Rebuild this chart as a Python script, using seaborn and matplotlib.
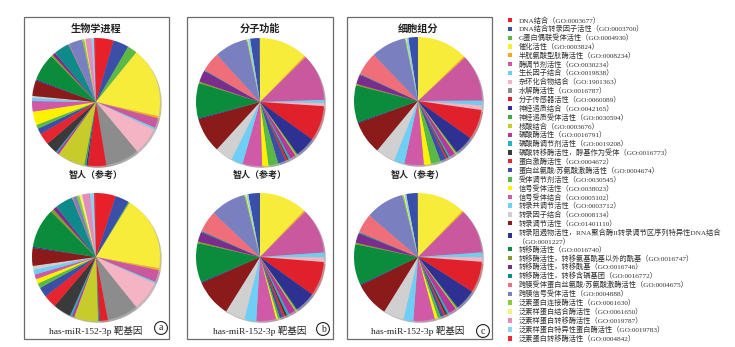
import matplotlib
matplotlib.use("Agg")
import matplotlib.pyplot as plt
import seaborn as sns
from matplotlib.patches import Rectangle, Patch

sns.set_theme(style="white")
plt.rcParams['font.family'] = ['Liberation Serif', 'Noto Sans CJK SC', 'DejaVu Sans']

# ---------------- data ----------------
categories = [
    "DNA结合（GO:0003677）",
    "DNA结合转录因子活性（GO:0003700）",
    "G蛋白偶联受体活性（GO:0004930）",
    "催化活性（GO:0003824）",
    "半胱氨酸型肽酶活性（GO:0008234）",
    "酶调节剂活性（GO:0030234）",
    "生长因子结合（GO:0019838）",
    "杂环化合物结合（GO:1901363）",
    "水解酶活性（GO:0016787）",
    "分子传感器活性（GO:0060089）",
    "神经递质结合（GO:0042165）",
    "神经递质受体活性（GO:0030594）",
    "核酸结合（GO:0003676）",
    "磷酸酶活性（GO:0016791）",
    "磷酸酶调节剂活性（GO:0019208）",
    "磷酸转移酶活性，醇基作为受体（GO:0016773）",
    "蛋白激酶活性（GO:0004672）",
    "蛋白丝氨酸/苏氨酸激酶活性（GO:0004674）",
    "受体调节剂活性（GO:0030545）",
    "信号受体活性（GO:0038023）",
    "信号受体结合（GO:0005102）",
    "转录共调节活性（GO:0003712）",
    "转录因子结合（GO:0008134）",
    "转录调节活性（GO:01401110）",
    "转录阻遏物活性，RNA聚合酶II转录调节区序列特异性DNA结合\n（GO:0001227）",
    "转移酶活性（GO:0016740）",
    "转移酶活性，转移氨基酰基以外的酰基（GO:0016747）",
    "转移酶活性，转移酰基（GO:0016746）",
    "转移酶活性，转移含磷基团（GO:0016772）",
    "跨膜受体蛋白丝氨酸/苏氨酸激酶活性（GO:0004675）",
    "跨膜信号受体活性（GO:0004888）",
    "泛素蛋白连接酶活性（GO:0061630）",
    "泛素样蛋白结合酶活性（GO:0061650）",
    "泛素样蛋白转移酶活性（GO:0019787）",
    "泛素样蛋白特异性蛋白酶活性（GO:0019783）",
    "泛素蛋白转移酶活性（GO:0004842）",
]

colors = [
    "#e8202a", "#3a4fa8", "#5cb946", "#f8ec3a", "#f5a623", "#c9589e",
    "#6ccff0", "#f4b4c4", "#8c8c8c", "#e0202a", "#2e3192", "#3aaa48",
    "#c8cc2a", "#b8379a", "#1fb5c9", "#3a3a3a", "#e62530", "#3b4fa6",
    "#58b947", "#fff200", "#d15aa8", "#6dcff6", "#d0d0d0", "#8b1a1a",
    "#2e3192", "#0a8c3c", "#8a9a2a", "#7b2d8e", "#0e8a8a", "#f06e7a",
    "#7a7fc0", "#8dc63f", "#f5f07a", "#e38cc0", "#8ad4f0", "#ee2a3a",
]

# (a) biological process
bp_ref = [4.5, 4.0, 2.5, 18, 0.5, 2.5, 0.5, 7, 8.6, 4.7, 0.4, 0.5, 7, 0.6, 0.3, 3,
          3, 1.5, 1, 3.5, 2.7, 0.8, 0.5, 4, 0.3, 7, 0.5, 0.8, 4, 0.2, 3.5, 0.5,
          0.3, 1.5, 0.7, 0.5]
bp_target = [5, 3.5, 0.3, 19, 0.5, 3, 0.4, 7.5, 7.8, 2, 0.2, 0.3, 6, 0.6, 0.5, 4.5,
             3.3, 2.5, 1.2, 1.2, 1.2, 1.2, 1, 4.5, 0.3, 10, 0.8, 1, 4.5, 0.2, 1, 0.7,
             0.7, 2, 1, 0.5]
# (b) molecular function
mf_ref = [0, 2.5, 0, 12.5, 0.4, 12, 0.8, 0.8, 0, 9, 5.3, 0.3, 0.3, 1.5, 0.5, 0.3,
          0.5, 2, 2.5, 1.6, 5, 3, 4.5, 9, 0.3, 9, 0.4, 3, 0.2, 5, 8.5, 0.2,
          0.2, 0, 0.5, 0]
mf_target = [0, 3, 0, 12.2, 0.4, 11.5, 1.2, 1.2, 0, 8.7, 5.4, 0.3, 0.3, 1.7, 0.6, 0.5,
             0.6, 0.8, 0.5, 0.5, 5, 3, 5, 9.5, 0.3, 10, 0.4, 2.5, 0.3, 5.5, 9, 0.3,
             0.3, 0, 0.4, 0]
# (c) cellular component
cc_ref = [0, 2.5, 0, 13, 0.4, 12, 1.2, 1.2, 0, 7.7, 5, 0.3, 0.3, 1.5, 0.4, 0.3,
          0.4, 1.5, 2.5, 1.8, 5, 2.7, 5, 8.5, 0.3, 9.5, 0.4, 2.5, 0.2, 6, 9, 0.2,
          0.2, 0, 0.5, 0]
cc_target = [0, 3, 0, 12.5, 0.4, 11.5, 1.2, 1.2, 0, 8, 5.5, 0.3, 0.3, 2, 0.5, 0.5,
             0.5, 0.8, 0.8, 0.8, 5.5, 2.5, 5.3, 9, 0.3, 10.5, 0.4, 2.5, 0.3, 5, 10, 0.3,
             0.3, 0, 0.4, 0]

panel_titles = ["生物学进程", "分子功能", "细胞组分"]
ref_label = "智人（参考）"
target_label = "has-miR-152-3p 靶基因"
panel_letters = ["a", "b", "c"]

# ---------------- layout ----------------
W, H = 735, 347
fig = plt.figure(figsize=(W / 100, H / 100), dpi=100)
fig.patch.set_facecolor("white")


def fx(px):
    return px / W


def fy(py):
    return 1 - py / H


panels = [
    dict(box=(24, 17, 169, 339), cx=96, cy=(102, 257), data=(bp_ref, bp_target), start=(90, 90),
         letter_xy=(161, 328)),
    dict(box=(187, 17, 333, 339), cx=260, cy=(102, 257), data=(mf_ref, mf_target), start=(99, 100.7),
         letter_xy=(323, 329)),
    dict(box=(347, 17, 492, 339), cx=418, cy=(101, 257), data=(cc_ref, cc_target), start=(98.8, 100.7),
         letter_xy=(483, 331)),
]

R = 64
LIM = 1.05
for i, p in enumerate(panels):
    l, t, r, b = p["box"]
    fig.patches.append(Rectangle((fx(l), fy(b)), (r - l) / W, (b - t) / H,
                                 transform=fig.transFigure, fill=False,
                                 edgecolor="#6b6b6b", linewidth=0.9))
    for j in range(2):
        cy = p["cy"][j]
        half = R * LIM
        ax = fig.add_axes([fx(p["cx"] - half), fy(cy + half), 2 * half / W, 2 * half / H])
        vals = p["data"][j]
        ax.pie(vals, colors=colors, startangle=p["start"][j], counterclock=False,
               wedgeprops=dict(linewidth=0),
               shadow=dict(ox=0.02, oy=-0.02, shade=0.4))
        ax.set_xlim(-LIM, LIM)
        ax.set_ylim(-LIM, LIM)
        ax.axis("off")
    cxm = p["cx"]
    fig.text(fx(cxm), fy(29), panel_titles[i], ha="center", va="center",
             fontsize=7.3, fontweight="bold", color="#222222")
    fig.text(fx(cxm), fy(175), ref_label, ha="center", va="center",
             fontsize=6.5, fontweight="bold", color="#222222")
    fig.text(fx(cxm), fy(331), target_label, ha="center", va="center",
             fontsize=6.8, color="#222222")
    lx, ly = p["letter_xy"]
    fig.text(fx(lx), fy(ly), panel_letters[i], ha="center", va="center", fontsize=7,
             color="#222222",
             bbox=dict(boxstyle="circle,pad=0.2", fc="white", ec="#222222", lw=0.8))

handles = [Patch(facecolor=c, edgecolor="none") for c in colors]
fig.legend(handles=handles, labels=categories, loc="upper left",
           bbox_to_anchor=(fx(508), fy(16)), frameon=False, fontsize=5.2,
           handlelength=0.55, handleheight=0.55, handletextpad=0.9,
           labelspacing=0.19, borderaxespad=0, borderpad=0, labelcolor="#333333")

fig.savefig("out.png", dpi=100, facecolor="white")
